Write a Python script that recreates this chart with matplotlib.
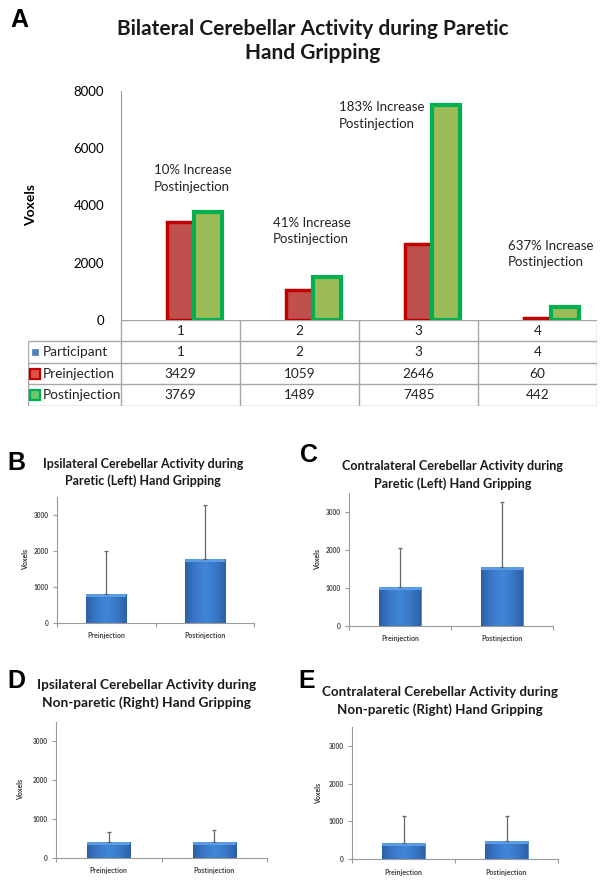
import numpy as np
import matplotlib.pyplot as plt
from matplotlib.colors import LinearSegmentedColormap

# === Panel A data (voxels per participant) ===
participants = ["1", "2", "3", "4"]
participant_vals = [1, 2, 3, 4]
pre_vals = [3429, 1059, 2646, 60]
post_vals = [3769, 1489, 7485, 442]
increase_labels = ["10% Increase\nPostinjection", "41% Increase\nPostinjection",
                   "183% Increase\nPostinjection", "637% Increase\nPostinjection"]
increase_x = [-0.223, 0.777, 1.332, 2.752]
increase_y = [4940, 3100, 7135, 2310]

# === Panels B-E data (group mean and SD) ===
conditions = ["Preinjection", "Postinjection"]
ipsi_paretic_mean = [800, 1760]
ipsi_paretic_sd = [1200, 1520]
contra_paretic_mean = [1030, 1560]
contra_paretic_sd = [1035, 1720]
ipsi_nonparetic_mean = [400, 410]
ipsi_nonparetic_sd = [255, 295]
contra_nonparetic_mean = [440, 475]
contra_nonparetic_sd = [700, 665]

W, H = 604, 885
FONT = "Lato"
LETTER = "Liberation Sans"


def rect(left, top, right, bottom):
    return [left / W, 1 - bottom / H, (right - left) / W, (bottom - top) / H]


def ftext(px, py, s, **kw):
    fig.text(px / W, 1 - py / H, s, **kw)


fig = plt.figure(figsize=(W / 100, H / 100), dpi=100)

# ---------------- Panel A ----------------
ftext(19, 20, "A", family=LETTER, fontweight="bold", fontsize=18, ha="center", va="center")
ftext(313, 41, "Bilateral Cerebellar Activity during Paretic\nHand Gripping", family=FONT,
      fontweight="bold", fontsize=15, ha="center", va="center", linespacing=1.25, color="#1a1a1a")

axA = fig.add_axes(rect(121, 90.7, 597, 320))
x = np.arange(len(participants))
w = 0.231
axA.bar(x - w, participant_vals, w, color="#4F81BD")
axA.bar(x, pre_vals, w, color="#C0504D", edgecolor="#C00000", linewidth=2.5)
axA.bar(x + w, post_vals, w, color="#9BBB59", edgecolor="#00B050", linewidth=3)
for tx, ty, s in zip(increase_x, increase_y, increase_labels):
    axA.text(tx, ty, s, family=FONT, fontsize=9.5, ha="left", va="center", linespacing=1.45,
             color="#222222")
axA.set_xlim(-0.5, 3.5)
axA.set_ylim(0, 8000)
axA.set_yticks([0, 2000, 4000, 6000, 8000])
axA.set_xticks([])
axA.tick_params(axis="y", length=0, pad=12, labelsize=9.5)
for lab in axA.get_yticklabels():
    lab.set_family(FONT)
for s in ["top", "right", "bottom"]:
    axA.spines[s].set_visible(False)
axA.spines["left"].set_color("#9a9a9a")
ftext(31, 205, "Voxels", family=FONT, fontweight="bold", fontsize=10, rotation=90,
      ha="center", va="center")

# data table under panel A
axT = fig.add_axes(rect(28, 320, 597, 405.7))
left_edge = -0.5 - (121 - 28) / 119
axT.set_xlim(left_edge, 3.5)
axT.set_ylim(4, 0)
axT.axis("off")
n = len(participants)
gc = "#a6a6a6"
axT.hlines(0, -0.5, n - 0.5, color=gc, lw=1)
axT.hlines([1, 2, 3, 4], left_edge, n - 0.5, color=gc, lw=1)
axT.vlines(left_edge, 1, 4, color=gc, lw=1)
axT.vlines(np.arange(n + 1) - 0.5, 0, 4, color=gc, lw=1)
rows = [participants, [str(v) for v in participant_vals], [str(v) for v in pre_vals],
        [str(v) for v in post_vals]]
for r, row in enumerate(rows):
    for c, val in enumerate(row):
        axT.text(c, r + 0.5, val, family=FONT, fontsize=9.8, ha="center", va="center",
                 color="#222222")
row_names = ["Participant", "Preinjection", "Postinjection"]
marker_styles = [("#4F81BD", "#4F81BD", 5, 0.5), ("#E0504D", "#C00000", 7, 1.6),
                 ("#6CC66A", "#00B050", 7, 1.6)]
for i, (name, (fc, ec, ms, mew)) in enumerate(zip(row_names, marker_styles)):
    axT.plot(left_edge + 7 / 119, i + 1.5, marker="s", ms=ms, mfc=fc, mec=ec, mew=mew)
    axT.text(left_edge + 15 / 119, i + 1.5, name, family=FONT, fontsize=9.8, ha="left",
             va="center", color="#222222")

# ---------------- Panels B-E ----------------
# Excel-like shaded bar: darker at the sides, brighter in the middle
side_shade = LinearSegmentedColormap.from_list(
    "bar", ["#2C60A8", "#3A78C8", "#4186D8", "#3A78C8", "#2C60A8"])


def small_panel(box, mean, sd, ylab_x):
    ax = fig.add_axes(rect(*box))
    xs = np.arange(len(conditions))
    bars = ax.bar(xs, mean, 0.41, color="#3C7BC9", edgecolor="#2F64A8", linewidth=0.4, zorder=2)
    grad = np.linspace(0, 1, 200).reshape(1, -1)
    band = 3 * 3500 / (box[3] - box[1])  # ~3 px light band on top of each bar
    for b in bars:
        x0, h, bw = b.get_x(), b.get_height(), b.get_width()
        im = ax.imshow(grad, extent=[x0, x0 + bw, 0, h], origin="lower", cmap=side_shade,
                       aspect="auto", zorder=2.1)
        im.set_clip_path(b)
        ax.add_patch(plt.Rectangle((x0, h - band), bw, band, color="#5C9BE6", lw=0, zorder=2.2))
    ax.errorbar(xs, mean, yerr=[np.zeros(len(sd)), sd], fmt="none", ecolor="#666666",
                elinewidth=0.9, capsize=1.5, capthick=0.9, zorder=3)
    ax.set_xlim(-0.5, 1.5)
    ax.set_ylim(0, 3500)
    ax.set_yticks([0, 1000, 2000, 3000])
    ax.set_xticks([-0.5, 0.5, 1.5])
    ax.set_xticklabels([])
    ax.set_xticks(xs, minor=True)
    ax.set_xticklabels(conditions, minor=True)
    ax.tick_params(axis="x", which="major", length=3, color="#9a9a9a")
    ax.tick_params(axis="x", which="minor", length=0, pad=7, labelsize=5, labelcolor="#404040")
    ax.tick_params(axis="y", length=3, color="#9a9a9a", pad=3, labelsize=4.8, labelcolor="#404040")
    for lab in ax.get_yticklabels() + ax.get_xticklabels(minor=True):
        lab.set_family(FONT)
        lab.set_fontweight("bold")
    for s in ["top", "right"]:
        ax.spines[s].set_visible(False)
    for s in ["left", "bottom"]:
        ax.spines[s].set_color("#9a9a9a")
        ax.spines[s].set_linewidth(0.8)
    ftext(ylab_x, (box[1] + box[3]) / 2, "Voxels", family=FONT, fontweight="bold", fontsize=5,
          rotation=90, ha="center", va="center", color="#303030")
    return ax


small_panel((57, 497, 254, 622.7), ipsi_paretic_mean, ipsi_paretic_sd, 26)
small_panel((349, 493.4, 553, 625.7), contra_paretic_mean, contra_paretic_sd, 318)
small_panel((56, 721.7, 267, 857.7), ipsi_nonparetic_mean, ipsi_nonparetic_sd, 21)
small_panel((352, 726.7, 558, 859.3), contra_nonparetic_mean, contra_nonparetic_sd, 319)

ftext(16, 463, "B", family=LETTER, fontweight="bold", fontsize=18, ha="center", va="center")
ftext(309, 455, "C", family=LETTER, fontweight="bold", fontsize=18, ha="center", va="center")
ftext(16, 681, "D", family=LETTER, fontweight="bold", fontsize=18, ha="center", va="center")
ftext(307, 681, "E", family=LETTER, fontweight="bold", fontsize=18, ha="center", va="center")

tkw = dict(family=FONT, fontweight="bold", ha="center", va="center", color="#1a1a1a")
ftext(143, 472.5, "Ipsilateral Cerebellar Activity during\nParetic (Left) Hand Gripping",
      fontsize=9, linespacing=1.5, **tkw)
ftext(453, 475, "Contralateral Cerebellar Activity during\nParetic (Left) Hand Gripping",
      fontsize=9.1, linespacing=1.5, **tkw)
ftext(147, 694, "Ipsilateral Cerebellar Activity during\nNon-paretic (Right) Hand Gripping",
      fontsize=9.8, linespacing=1.45, **tkw)
ftext(440, 701, "Contralateral Cerebellar Activity during\nNon-paretic (Right) Hand Gripping",
      fontsize=9.6, linespacing=1.45, **tkw)

fig.savefig("out.png", dpi=100)
